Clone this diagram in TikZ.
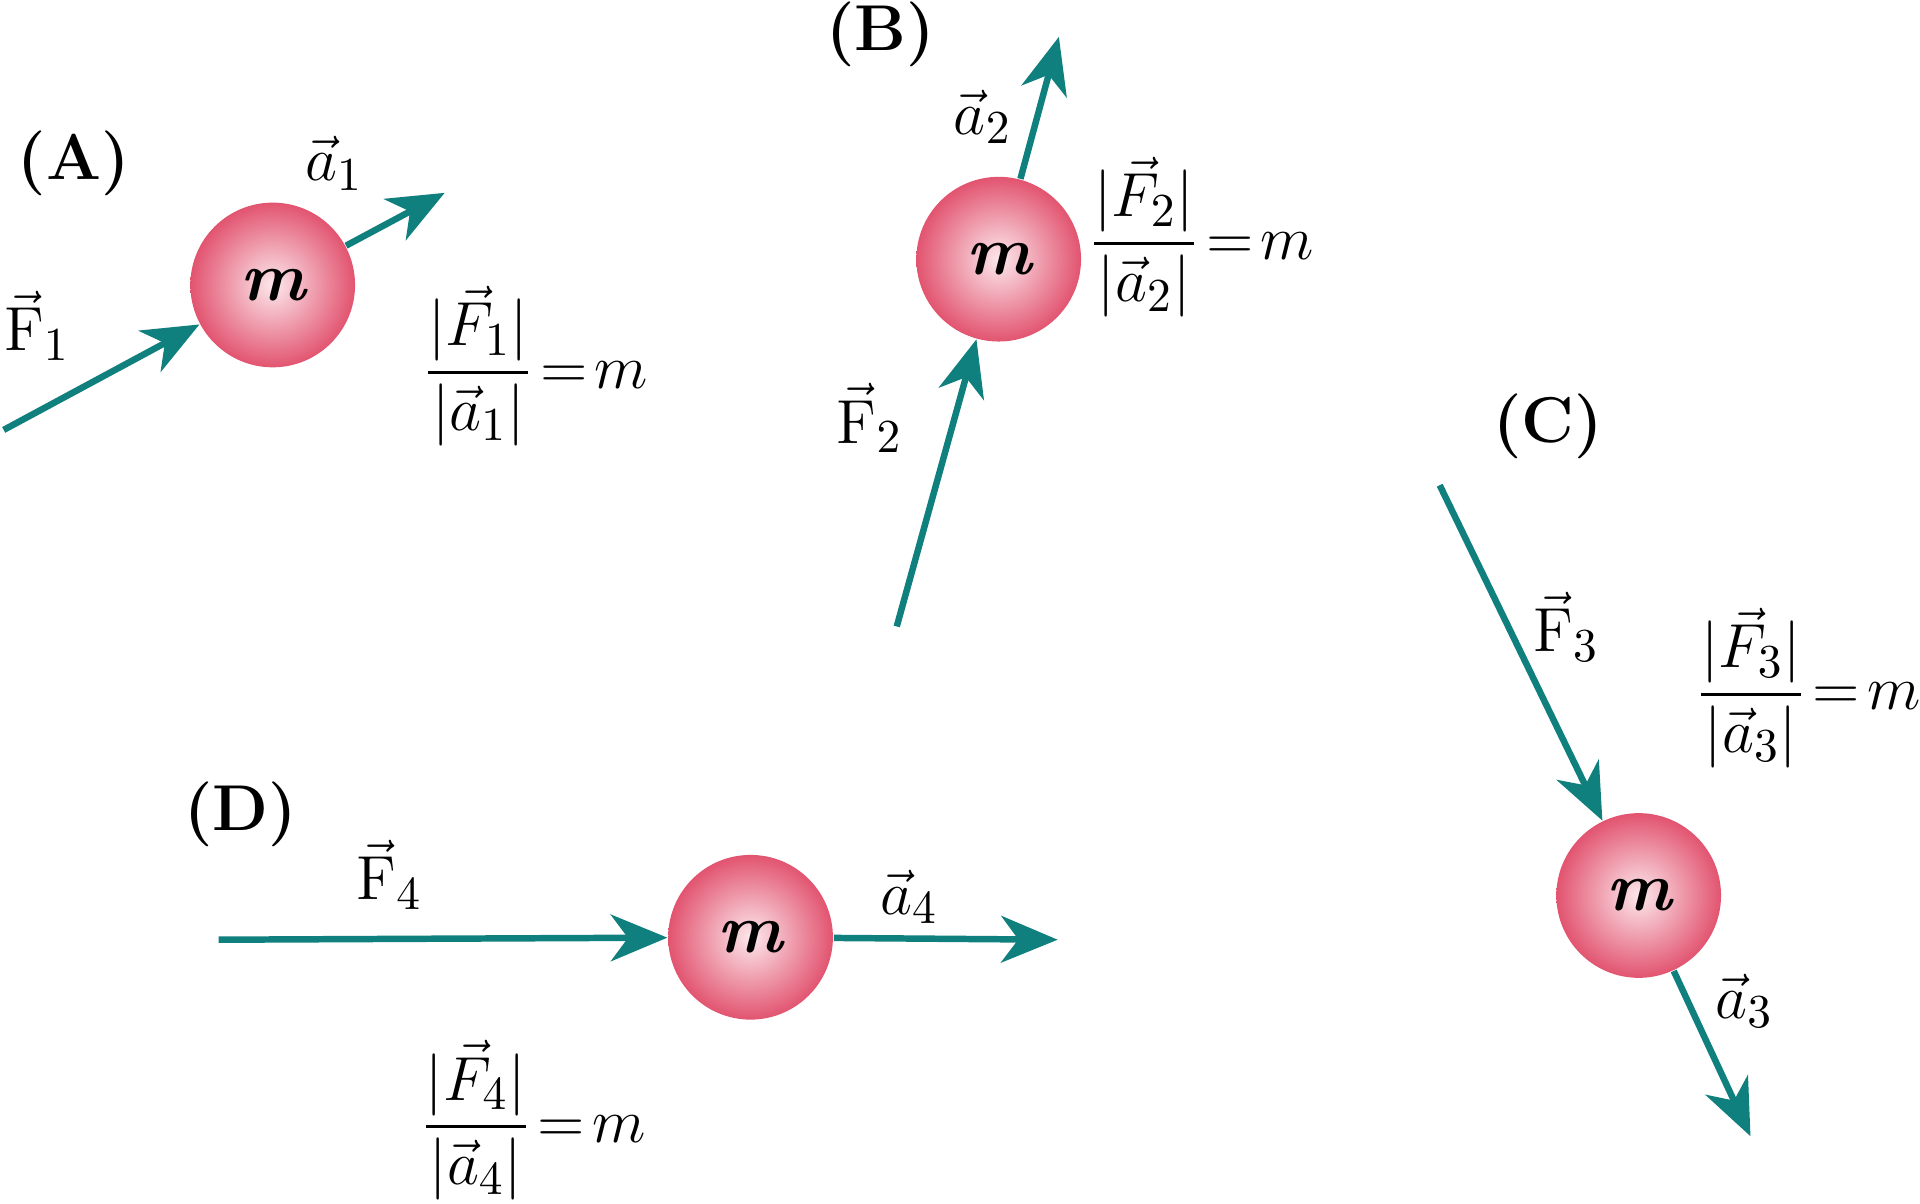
\documentclass[tikz,border=0pt]{standalone}
\usepackage{amsmath}
\usetikzlibrary{arrows.meta}
\definecolor{teal1}{RGB}{16,128,126}
\definecolor{ballin}{RGB}{252,232,236}
\definecolor{ballout}{RGB}{226,84,112}
\begin{document}
\begin{tikzpicture}[x=0.01cm,y=-0.01cm,
  ball/.style={circle,minimum size=1.34cm,inner sep=0pt,inner color=ballin,outer color=ballout,font=\fontsize{16}{18}\selectfont\bfseries\itshape},
  vec/.style={draw=teal1,line width=1.5pt,-{Stealth[length=4.6mm,width=3.8mm,inset=1.4mm]}},
  lab/.style={font=\fontsize{15}{18}\selectfont},
  panel/.style={font=\fontsize{15}{18}\selectfont\bfseries},
  frac/.style={font=\fontsize{15}{18}\selectfont,inner sep=1pt}]
\useasboundingbox (0,0) rectangle (1563,980);
% balls
\node[ball] (mA) at (222,232) {m};
\node[ball] (mB) at (813,211) {m};
\node[ball] (mC) at (1334,729) {m};
\node[ball] (mD) at (611,763) {m};
% coordinates
\coordinate (fA) at (3,350);
\coordinate (aA) at (362,157);
\coordinate (fB) at (730,510);
\coordinate (aB) at (862,30);
\coordinate (fC) at (1172,395);
\coordinate (aC) at (1425,925);
\coordinate (fD) at (178,765);
\coordinate (aD) at (861,765);
\draw[vec] (fA) -- (mA);
\draw[vec] (mA) -- (aA);
\draw[vec] (fB) -- (mB);
\draw[vec] (mB) -- (aB);
\draw[vec] (fC) -- (mC);
\draw[vec] (mC) -- (aC);
\draw[vec] (fD) -- (mD);
\draw[vec] (mD) -- (aD);
% panel labels
\node[panel] (pA) at (60,133) {(A)};
\node[panel] (pB) at (717,28) {(B)};
\node[panel] (pC) at (1260,347) {(C)};
\node[panel] (pD) at (196,663) {(D)};
% vector labels
\node[lab] (lF1) at (30,265) {$\vec{\mathrm{F}}_1$};
\node[lab] (la1) at (272,133) {$\vec{a}_1$};
\node[lab] (lF2) at (708,340) {$\vec{\mathrm{F}}_2$};
\node[lab] (la2) at (800,95) {$\vec{a}_2$};
\node[lab] (lF3) at (1275,510) {$\vec{\mathrm{F}}_3$};
\node[lab] (la3) at (1420,815) {$\vec{a}_3$};
\node[lab] (lF4) at (317,712) {$\vec{\mathrm{F}}_4$};
\node[lab] (la4) at (740,730) {$\vec{a}_4$};
% formulas
\node[frac] (eA) at (436,298) {$\dfrac{|\vec{F}_1|}{|\vec{a}_1|}\!=\!m$};
\node[frac] (eB) at (978,193) {$\dfrac{|\vec{F}_2|}{|\vec{a}_2|}\!=\!m$};
\node[frac] (eC) at (1472,560) {$\dfrac{|\vec{F}_3|}{|\vec{a}_3|}\!=\!m$};
\node[frac] (eD) at (434,912) {$\dfrac{|\vec{F}_4|}{|\vec{a}_4|}\!=\!m$};
\end{tikzpicture}
\end{document}
